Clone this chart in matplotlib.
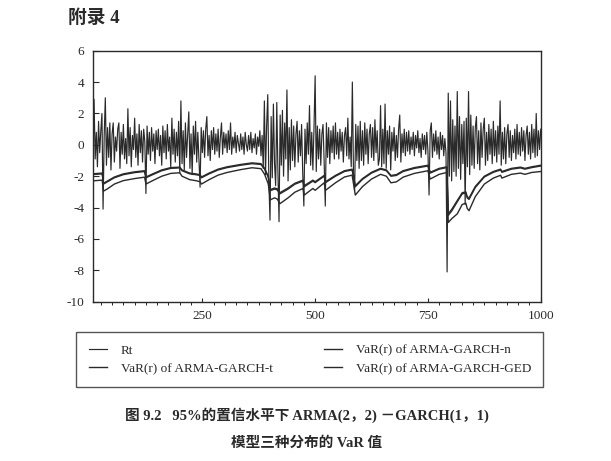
import numpy as np
import matplotlib
matplotlib.use('Agg')
import matplotlib.pyplot as plt
from matplotlib.ticker import MultipleLocator

plt.rcParams['font.family'] = ['Liberation Serif', 'Noto Sans CJK SC']
plt.rcParams['axes.unicode_minus'] = False

rt_idx = np.arange(1, 401) * 2.5
rt = [
    0.4, -0.6, 1.2, 2.9, -0.9, 0.8, -1.4, 1.5, -0.5, 0.9, 2.0, -4.1, 0.6, 3.0, -1.3, 1.1, -0.8, 1.4, -1.6, 0.7,
    1.4, -1.1, 0.5, -0.4, 1.0, 1.4, -1.5, 0.8, -0.6, 1.3, -0.9, 0.4, -1.2, 2.3, -0.7, 1.1, -1.4, 0.6, -0.3, 1.7,
    -0.8, 0.7, -1.3, 1.3, -0.5, 0.9, -1.1, 1.0, 0.2, -3.1, 1.2, -0.6, 0.8, -1.0, 1.1, -0.4, 0.7, -1.2, 0.9, -0.3,
    1.0, -0.7, 0.6, -1.3, 1.2, -0.5, 0.9, -0.9, 1.3, -0.4, 0.5, -1.4, 1.7, -0.6, 1.0, -1.1, 0.8, -0.7, 1.5, -1.8,
    2.8, -1.2, 0.9, -1.6, 1.4, -0.8, 0.6, 2.1, -1.5, 0.7, -1.9, 1.2, -0.6, 1.5, -1.1, 0.8, -0.9, -2.7, 1.1, -0.5,
    0.9, -0.8, 1.0, 1.8, -0.7, 0.6, -1.0, 0.9, -0.3, 1.1, -0.6, 0.7, -0.4, 1.0, -0.8, 0.5, 1.4, -0.6, 0.8, -0.2,
    0.7, -0.5, 0.9, -0.3, 1.4, -0.6, 0.5, -0.2, 0.8, -0.5, 0.6, 0.1, -0.4, 0.7, -0.3, 0.5, -0.6, 0.8, 0.0, -0.4,
    0.6, -0.3, 0.8, -0.5, 0.4, -0.2, 0.7, -0.6, 0.5, -0.1, 0.9, -0.7, 0.6, -1.5, 2.8, -1.9, 1.2, 3.2, -2.4, -4.8,
    1.8, -2.1, 2.6, -1.2, -2.6, 2.7, -1.7, -4.9, 1.9, -1.3, 2.2, -2.0, 1.4, -0.9, 3.5, -2.3, 1.1, -1.6, 1.6, -1.0,
    1.2, -1.4, 0.7, 1.5, -1.1, 0.9, -0.7, 1.3, -1.8, -3.9, 1.0, -1.2, 1.4, -0.6, 2.5, -1.3, 0.8, -1.6, 1.1, 4.4,
    -1.7, 1.2, -0.9, 1.0, -1.3, 0.7, 1.3, -1.1, -3.9, 1.4, -0.8, 1.1, -1.2, 0.9, -0.5, 1.2, -0.9, 1.4, -0.6, 0.8,
    -0.9, 1.0, -0.4, 0.8, -1.1, 0.6, 1.1, -0.7, 1.7, -0.9, 0.5, -1.4, 4.0, -1.8, -2.9, 1.3, -1.0, 1.2, -1.5, 1.5,
    -1.0, 0.9, -1.3, 1.4, -0.6, 1.0, -1.2, 0.7, 1.3, -0.8, 1.1, -1.0, 1.6, -0.5, 0.9, -1.3, -0.9, 2.5, -1.4, 1.0,
    -1.2, 2.6, -1.5, 0.9, -0.6, 1.2, -1.6, 0.8, -0.4, 1.1, -1.0, 0.6, -0.8, 1.0, 1.9, -1.1, 0.7, -0.5, 1.0, -0.7,
    0.8, -0.4, 0.9, -0.6, 0.5, -0.3, 0.8, -0.7, 0.6, -0.2, 0.9, -0.5, 0.4, -0.8, 0.7, -0.3, 0.6, -0.6, 0.8, -0.4,
    -3.2, 0.9, 1.4, -0.8, 0.7, -0.4, 0.9, -0.6, 0.5, -0.9, 0.8, -0.3, 0.6, -0.7, 0.4, -0.5, -8.1, 3.3, -2.0, 2.8,
    -2.3, 1.6, -1.7, 1.2, -2.0, 3.4, -1.5, 1.8, -2.2, 1.3, -1.2, 1.5, -3.8, 1.7, -1.4, 3.4, -1.9, 1.9, -1.3, 1.2,
    -1.5, 1.1, 1.8, -1.2, 0.9, -1.6, 1.4, -0.8, 1.0, 1.7, -1.3, 0.8, -1.0, 1.3, -0.6, 1.0, -1.2, 1.5, -0.7, 0.9,
    -1.1, 1.2, -0.6, 2.8, -1.3, 0.8, -0.9, 1.1, -1.2, 0.7, 1.3, -0.8, 0.9, -1.0, 0.6, -0.5, 1.0, -0.9, 1.3, -0.6,
    0.8, -0.7, 1.1, -0.4, 0.9, -1.0, 0.6, 1.2, -0.6, 0.8, -0.9, 1.3, -0.5, 1.0, -0.8, 2.0, -0.7, 0.9, -0.3, 1.0,
]

# VaR curves, sampled at their turning points
var_idx = [5, 28, 31, 40, 55, 75, 100, 122, 125, 140,
           160, 180, 200, 205, 222, 235, 245, 248, 265, 285,
           305, 335, 360, 380, 388, 396, 401, 410, 416, 422,
           440, 455, 473, 476, 495, 500, 520, 523, 545, 565,
           582, 585, 589, 605, 625, 645, 658, 668, 680, 695,
           720, 750, 755, 775, 792, 795, 803, 815, 826, 834,
           837, 841, 855, 875, 895, 911, 914, 935, 955, 965,
           980, 1000]
var_t = [-1.85, -1.8, -2.45, -2.3, -2.05, -1.85, -1.72, -1.65, -2.05, -1.85,
         -1.6, -1.45, -1.42, -1.6, -1.8, -1.85, -1.9, -2.05, -1.8, -1.55,
         -1.4, -1.25, -1.15, -1.2, -1.5, -2.0, -2.85, -2.75, -2.8, -3.05,
         -2.75, -2.45, -2.25, -2.6, -2.25, -2.35, -1.95, -2.35, -1.95, -1.65,
         -1.55, -2.0, -2.6, -2.15, -1.75, -1.5, -1.6, -1.95, -1.9, -1.65,
         -1.45, -1.3, -1.75, -1.5, -1.4, -4.4, -4.1, -3.55, -3.05, -3.0,
         -3.3, -3.4, -2.65, -2.0, -1.7, -1.55, -1.7, -1.5, -1.42, -1.5,
         -1.4, -1.3]
var_n = [-2.3, -2.25, -2.95, -2.8, -2.5, -2.28, -2.15, -2.06, -2.5, -2.28,
         -2.0, -1.82, -1.78, -2.0, -2.22, -2.28, -2.35, -2.5, -2.22, -1.93,
         -1.76, -1.58, -1.46, -1.52, -1.88, -2.48, -3.5, -3.38, -3.45, -3.75,
         -3.38, -3.02, -2.78, -3.2, -2.78, -2.9, -2.42, -2.9, -2.42, -2.05,
         -1.93, -2.48, -3.2, -2.66, -2.18, -1.88, -2.0, -2.42, -2.36, -2.06,
         -1.82, -1.65, -2.18, -1.88, -1.76, -4.95, -4.7, -4.4, -3.8, -3.72,
         -4.05, -4.2, -3.3, -2.5, -2.12, -1.94, -2.12, -1.88, -1.8, -1.88,
         -1.76, -1.7]
var_ged = [-1.9, -1.85, -2.5, -2.35, -2.1, -1.9, -1.77, -1.7, -2.1, -1.9,
           -1.65, -1.5, -1.47, -1.65, -1.85, -1.9, -1.95, -2.1, -1.85, -1.6,
           -1.45, -1.3, -1.2, -1.25, -1.55, -2.05, -2.92, -2.82, -2.87, -3.12,
           -2.82, -2.51, -2.31, -2.67, -2.31, -2.41, -2.0, -2.41, -2.0, -1.7,
           -1.6, -2.05, -2.67, -2.2, -1.8, -1.55, -1.65, -2.0, -1.95, -1.7,
           -1.5, -1.35, -1.8, -1.55, -1.45, -4.5, -4.2, -3.63, -3.12, -3.07,
           -3.38, -3.48, -2.72, -2.05, -1.75, -1.6, -1.75, -1.55, -1.47, -1.55,
           -1.45, -1.35]

labels = ['Rt', 'VaR(r) of ARMA-GARCH-n', 'VaR(r) of ARMA-GARCH-t',
          'VaR(r) of ARMA-GARCH-GED']

ink = '#2a2a2a'

fig = plt.figure(figsize=(6.11, 4.61), dpi=100)
ax = fig.add_axes([0.1517, 0.3455, 0.7333, 0.5445])

l_rt, = ax.plot(rt_idx, rt, color=ink, lw=0.85)
l_n, = ax.plot(var_idx, var_n, color=ink, lw=1.0)
l_t, = ax.plot(var_idx, var_t, color=ink, lw=1.0)
l_g, = ax.plot(var_idx, var_ged, color=ink, lw=1.0)

ax.set_xlim(7, 1000)
ax.set_ylim(-10, 6)
ax.xaxis.set_major_locator(MultipleLocator(250))
ax.xaxis.set_minor_locator(MultipleLocator(25))
ax.yaxis.set_major_locator(MultipleLocator(2))
ax.tick_params(axis='both', direction='in', labelsize=9.5, colors=ink,
               top=False, right=False)
ax.tick_params(axis='x', which='major', length=3, pad=6)
ax.tick_params(axis='x', which='minor', length=2.5)
ax.tick_params(axis='y', length=4, pad=6)
for s in ax.spines.values():
    s.set_color(ink)
    s.set_linewidth(1.0)

leg = fig.legend([l_rt, l_t, l_n, l_g], [labels[0], labels[2], labels[1], labels[3]],
                 ncol=2, loc='upper left', bbox_to_anchor=(0.125, 1 - 332 / 461),
                 frameon=True, fancybox=False, edgecolor=ink, fontsize=9.5,
                 handlelength=1.4, handletextpad=1.0, columnspacing=3.9,
                 labelspacing=0.45, borderpad=0.95, borderaxespad=0)
leg.get_frame().set_linewidth(1.0)
for t in leg.get_texts():
    t.set_color(ink)

fig.text(68 / 611, 1 - 18 / 461, '附录 4', ha='left', va='center',
         fontsize=13.5, fontweight='bold', color=ink)
fig.text(0.502, 1 - 415 / 461, '图 9.2   95%的置信水平下 ARMA(2，2) －GARCH(1，1)',
         ha='center', va='center', fontsize=10.5, fontweight='bold', color=ink)
fig.text(0.502, 1 - 443 / 461, '模型三种分布的 VaR 值',
         ha='center', va='center', fontsize=10.5, fontweight='bold', color=ink)

fig.savefig('out.png', dpi=100)
